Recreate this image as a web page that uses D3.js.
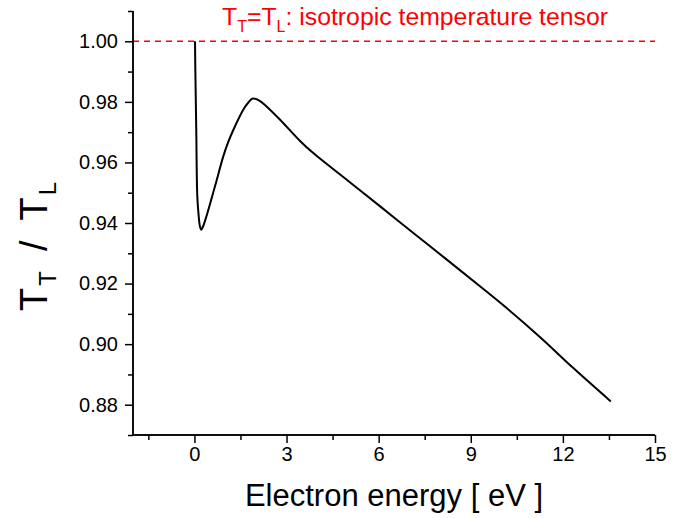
<!DOCTYPE html>
<html><head><meta charset="utf-8">
<script src="https://cdn.jsdelivr.net/npm/d3@7"></script>
<style>
body{margin:0;background:#fff;}
svg{display:block;font-family:"Liberation Sans",Arial,sans-serif;}
</style></head>
<body><svg id="c" width="682" height="518"></svg>
<script>
const energy = [0.02,0.03,0.06,0.094,0.14,0.18,0.225,0.28,0.40,0.55,0.70,0.94,1.10,1.27,1.59,1.75,1.90,2.10,2.35,2.79,3.44,3.87,4.96,6.05,7.13,8.22,9.30,10.17,11.26,12.34,13.56];
const ratio  = [1.000,0.9906,0.971,0.9488,0.9422,0.9389,0.9378,0.9388,0.9425,0.9478,0.9532,0.962,0.9667,0.9708,0.9774,0.9797,0.9811,0.9805,0.9785,0.9741,0.9671,0.9631,0.9543,0.9455,0.9367,0.9279,0.9191,0.9119,0.9023,0.8921,0.8811];
const xMajor = [0,3,6,9,12,15];
const xMinor = [-1.5,1.5,4.5,7.5,10.5,13.5];
const yMajor = [0.88,0.90,0.92,0.94,0.96,0.98,1.00];
const yMinor = [0.87,0.89,0.91,0.93,0.95,0.97,0.99,1.01];
const isoValue = 1.00;

const svg = d3.select("#c");
const x = d3.scaleLinear().domain([-2,15]).range([133,655]);
const y = d3.scaleLinear().domain([0.87,1.01]).range([435,11]);

// reference dashed line
svg.append("line").attr("x1",x(-2)).attr("x2",x(15)).attr("y1",y(isoValue)).attr("y2",y(isoValue))
  .attr("stroke","#ff0000").attr("stroke-width",1.5).attr("stroke-dasharray","6,5");

// axes
const gx = svg.append("g").attr("transform",`translate(0,${y(0.87)})`);
gx.call(d3.axisBottom(x).tickValues(xMajor).tickSize(8).tickPadding(4).tickFormat(d3.format("d")));
gx.append("g").call(d3.axisBottom(x).tickValues(xMinor).tickSize(5).tickFormat(""));
const gy = svg.append("g").attr("transform",`translate(${x(-2)},0)`);
gy.call(d3.axisLeft(y).tickValues(yMajor).tickSize(8).tickPadding(7).tickFormat(d3.format(".2f")));
gy.append("g").call(d3.axisLeft(y).tickValues(yMinor).tickSize(5).tickFormat(""));
svg.selectAll(".domain").attr("stroke","#000").attr("stroke-width",1.5);
svg.selectAll(".tick line").attr("stroke","#000").attr("stroke-width",1.5);
gx.selectAll(".domain").attr("d",`M${x(-2)},0H${x(15)}`);
gy.selectAll(".domain").attr("d",`M0,${y(1.01)}V${y(0.87)}`);
svg.selectAll(".tick text").attr("font-size",20).attr("fill","#000").attr("font-family","Liberation Sans, Arial, sans-serif");

// curve
const pts = energy.map((e,i)=>[e,ratio[i]]);
svg.append("path").datum(pts)
  .attr("fill","none").attr("stroke","#000").attr("stroke-width",2).attr("stroke-linejoin","round")
  .attr("d", d3.line().x(d=>x(d[0])).y(d=>y(d[1])).curve(d3.curveCatmullRom.alpha(0.5)));

// titles
svg.append("text").attr("x",394).attr("y",506).attr("text-anchor","middle")
  .attr("font-size",31).attr("fill","#000").text("Electron energy [ eV ]");

const yt = svg.append("text").attr("transform","translate(47,311) rotate(-90)")
  .attr("text-anchor","start").attr("font-size",38).attr("fill","#000");
yt.append("tspan").text("T");
yt.append("tspan").attr("font-size",24).attr("dx",2).attr("dy",9).text("T");
yt.append("tspan").attr("dx",20).attr("dy",-9).text("/");
yt.append("tspan").attr("dx",20).text("T");
yt.append("tspan").attr("font-size",24).attr("dx",2).attr("dy",9).text("L");

const ann = svg.append("text").attr("x",222).attr("y",25).attr("font-size",24.8).attr("fill","#ff0000");
ann.append("tspan").text("T");
ann.append("tspan").attr("font-size",16).attr("dy",7).text("T");
ann.append("tspan").attr("dy",-7).text("=T");
ann.append("tspan").attr("font-size",16).attr("dy",7).text("L");
ann.append("tspan").attr("dy",-7).text(": isotropic temperature tensor");
</script></body></html>
